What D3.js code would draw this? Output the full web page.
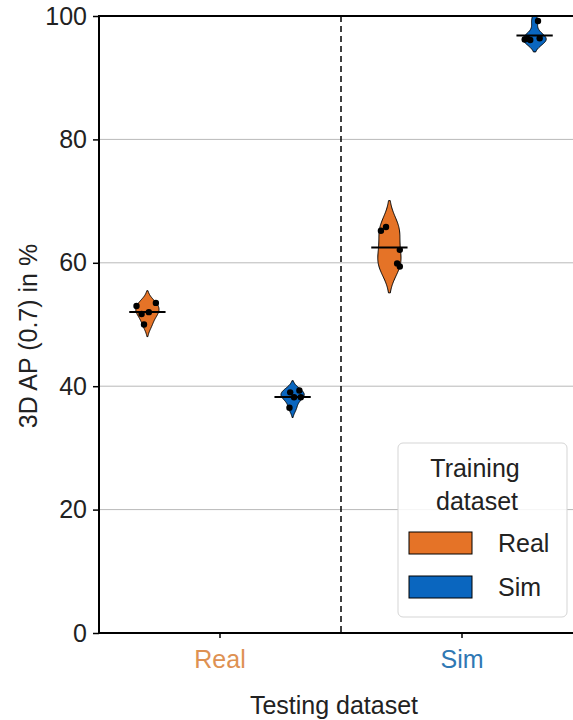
<!DOCTYPE html>
<html>
<head>
<meta charset="utf-8">
<script src="https://cdn.jsdelivr.net/npm/d3@7"></script>
<style>
  body { margin: 0; background: #fff; }
  svg text { font-family: "Liberation Sans", Arial, sans-serif; }
</style>
</head>
<body>
<svg id="chart" width="573" height="720"></svg>
<script>
// data
const testing = ["Real", "Sim"];
const training = ["Real", "Sim"];
const yTicks = [0, 20, 40, 60, 80, 100];

// runs per (testing, training)
const realReal = [53.5, 53.0, 52.0, 51.7, 50.0];
const realSim = [39.0, 39.3, 38.2, 38.2, 36.5];
const simReal = [65.2, 65.8, 62.1, 59.9, 59.4];
const simSim = [99.2, 96.2, 96.1, 96.4, 96.3];

// strip jitter (band units)
const jitterRealReal = [0.035, -0.045, 0.006, -0.024, -0.014];
const jitterRealSim = [-0.01, 0.028, 0.006, 0.034, -0.013];
const jitterSimReal = [-0.035, -0.014, 0.043, 0.032, 0.043];
const jitterSimSim = [0.014, -0.041, -0.018, 0.021, -0.029];

const groups = [
  { test: "Real", train: "Real", values: realReal, jitter: jitterRealReal },
  { test: "Real", train: "Sim", values: realSim, jitter: jitterRealSim },
  { test: "Sim", train: "Real", values: simReal, jitter: jitterSimReal },
  { test: "Sim", train: "Sim", values: simSim, jitter: jitterSimSim }
];

const colors = { Real: "#e57327", Sim: "#0a66bf" };
const tickColors = { Real: "#de9152", Sim: "#2f78b4" };
const textColor = "#222";

// layout
const width = 573;
const height = 720;
const margin = { top: 16, right: -10, bottom: 87, left: 99 };

const svg = d3.select("#chart");

const x = d3.scaleBand()
  .domain(testing)
  .range([margin.left, width - margin.right])
  .padding(0);

const bw = x.bandwidth();

const hue = d3.scalePoint()
  .domain(training)
  .range([-0.3 * bw, 0.3 * bw]);

const y = d3.scaleLinear()
  .domain([0, 100])
  .range([height - margin.bottom, margin.top]);

svg.append("defs").append("clipPath")
  .attr("id", "plotClip")
  .append("rect")
  .attr("x", margin.left)
  .attr("y", margin.top)
  .attr("width", width - margin.left - margin.right)
  .attr("height", y(0) - margin.top);

// grid
svg.append("g")
  .selectAll("line")
  .data(yTicks.filter(t => t > 0 && t < 100))
  .join("line")
  .attr("x1", margin.left)
  .attr("x2", width - margin.right)
  .attr("y1", d => y(d))
  .attr("y2", d => y(d))
  .attr("stroke", "#b9b9b9")
  .attr("stroke-width", 1);

// separator between testing datasets
svg.append("line")
  .attr("x1", x("Sim"))
  .attr("x2", x("Sim"))
  .attr("y1", y(100))
  .attr("y2", y(0))
  .attr("stroke", "#000")
  .attr("stroke-width", 1.5)
  .attr("stroke-dasharray", "6,4");

// kde helpers (seaborn-like: scott bandwidth, cut = 2, scale = width)
function kde(values) {
  const n = values.length;
  const sd = d3.deviation(values);
  const h = sd * Math.pow(n, -1 / 5);
  const lo = d3.min(values) - 2 * h;
  const hi = d3.max(values) + 2 * h;
  const grid = d3.range(101).map(i => lo + (hi - lo) * i / 100);
  return grid.map(v => [v, d3.mean(values, d => Math.exp(-0.5 * ((v - d) / h) ** 2))]);
}

const halfWidth = 0.048 * bw;

const plot = svg.append("g").attr("clip-path", "url(#plotClip)");

groups.forEach(g => {
  const cx = x(g.test) + bw / 2 + hue(g.train);
  const dens = kde(g.values);
  const maxD = d3.max(dens, d => d[1]);
  const w = d3.scaleLinear().domain([0, maxD]).range([0, halfWidth]);

  const area = d3.area()
    .y(d => y(d[0]))
    .x0(d => cx - w(d[1]))
    .x1(d => cx + w(d[1]))
    .curve(d3.curveLinear);

  plot.append("path")
    .datum(dens)
    .attr("d", area)
    .attr("fill", colors[g.train])
    .attr("stroke", "#000")
    .attr("stroke-width", 1);

  plot.append("g")
    .selectAll("circle")
    .data(g.values)
    .join("circle")
    .attr("cx", (d, i) => cx + g.jitter[i] * bw)
    .attr("cy", d => y(d))
    .attr("r", 3.2)
    .attr("fill", "#000");

  const m = d3.mean(g.values);
  plot.append("line")
    .attr("x1", cx - 0.075 * bw)
    .attr("x2", cx + 0.075 * bw)
    .attr("y1", y(m))
    .attr("y2", y(m))
    .attr("stroke", "#000")
    .attr("stroke-width", 2);
});

// axes
const yAxis = svg.append("g")
  .attr("transform", `translate(${margin.left},0)`)
  .call(d3.axisLeft(y).tickValues(yTicks).tickSize(6).tickPadding(6));
yAxis.select(".domain").remove();
yAxis.selectAll(".tick line").attr("stroke", "#000").attr("stroke-width", 1.5);
yAxis.selectAll(".tick text")
  .attr("font-size", 25)
  .attr("font-family", "Liberation Sans, Arial, sans-serif")
  .attr("fill", textColor);

const xAxis = svg.append("g")
  .attr("transform", `translate(0,${y(0)})`)
  .call(d3.axisBottom(x).tickSize(5).tickPadding(12));
xAxis.select(".domain").remove();
xAxis.selectAll(".tick line").attr("stroke", "#000").attr("stroke-width", 1.5);
xAxis.selectAll(".tick text")
  .attr("font-size", 25)
  .attr("font-family", "Liberation Sans, Arial, sans-serif")
  .attr("fill", d => tickColors[d]);

// spines
const spines = svg.append("g").attr("stroke", "#000").attr("stroke-width", 2);
spines.append("line")
  .attr("x1", margin.left).attr("x2", width - margin.right)
  .attr("y1", y(100)).attr("y2", y(100));
spines.append("line")
  .attr("x1", margin.left).attr("x2", width - margin.right)
  .attr("y1", y(0)).attr("y2", y(0));
spines.append("line")
  .attr("x1", margin.left).attr("x2", margin.left)
  .attr("y1", y(100) - 1).attr("y2", y(0) + 1);

// axis labels
svg.append("text")
  .attr("x", 334)
  .attr("y", 714)
  .attr("text-anchor", "middle")
  .attr("font-size", 25)
  .attr("fill", textColor)
  .text("Testing dataset");

svg.append("text")
  .attr("transform", "translate(37,336) rotate(-90)")
  .attr("text-anchor", "middle")
  .attr("font-size", 25)
  .attr("fill", textColor)
  .text("3D AP (0.7) in %");

// legend
const legend = svg.append("g").attr("transform", "translate(398,443)");

legend.append("rect")
  .attr("width", 169)
  .attr("height", 174)
  .attr("rx", 5)
  .attr("fill", "#fff")
  .attr("fill-opacity", 0.85)
  .attr("stroke", "#d5d5d5")
  .attr("stroke-width", 1);

legend.append("text")
  .attr("x", 77)
  .attr("y", 34)
  .attr("text-anchor", "middle")
  .attr("font-size", 25)
  .attr("fill", textColor)
  .text("Training");

legend.append("text")
  .attr("x", 79)
  .attr("y", 67)
  .attr("text-anchor", "middle")
  .attr("font-size", 25)
  .attr("fill", textColor)
  .text("dataset");

const items = legend.selectAll("g.item")
  .data(training)
  .join("g")
  .attr("class", "item")
  .attr("transform", (d, i) => `translate(11,${89 + i * 44})`);

items.append("rect")
  .attr("width", 63)
  .attr("height", 22)
  .attr("fill", d => colors[d])
  .attr("stroke", "#000")
  .attr("stroke-width", 1);

items.append("text")
  .attr("x", 89)
  .attr("y", 20)
  .attr("font-size", 25)
  .attr("fill", textColor)
  .text(d => d);
</script>
</body>
</html>
